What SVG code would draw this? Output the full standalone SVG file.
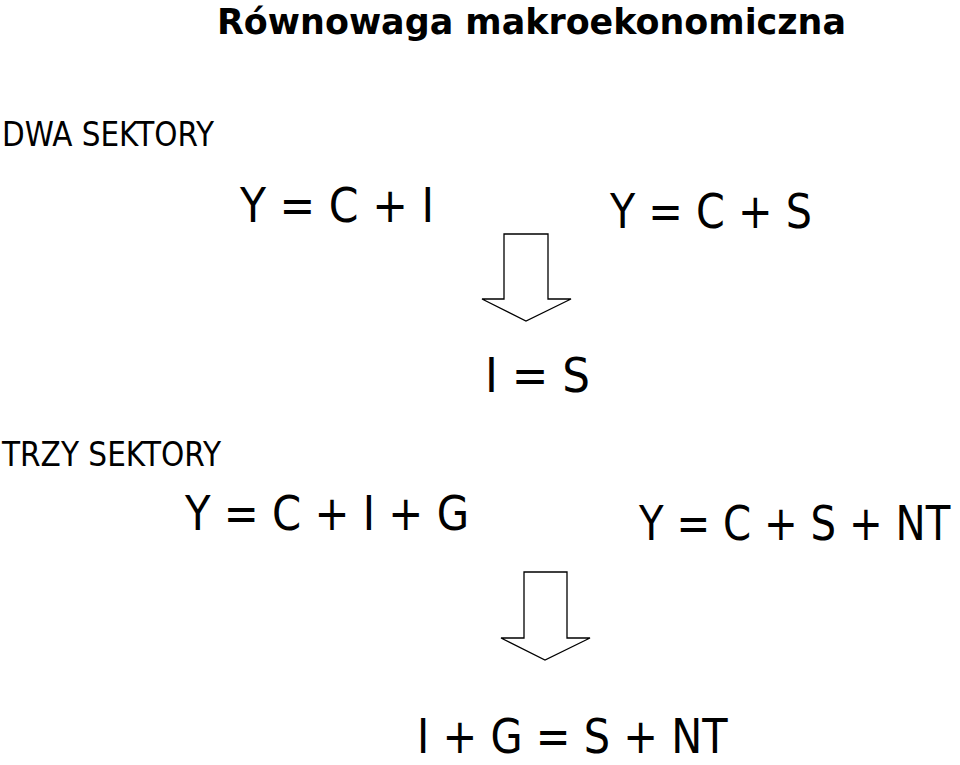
<svg xmlns="http://www.w3.org/2000/svg" width="960" height="765" viewBox="0 0 960 765">
<style>
.t{font-family:"DejaVu Sans","Liberation Sans",sans-serif;fill:#000}
.title{font-size:36px;font-weight:bold}
.lab{font-size:33px}
.eq{font-size:48px}
.arrow{fill:#fff;stroke:#000;stroke-width:1.3;stroke-linejoin:miter}
</style>
<rect width="960" height="765" fill="#fff"/>
<g id="title"><text class="t title" x="217" y="34" textLength="629" lengthAdjust="spacingAndGlyphs">Równowaga makroekonomiczna</text></g>
<g id="dwa"><text class="t lab" x="2" y="146" textLength="212" lengthAdjust="spacingAndGlyphs">DWA SEKTORY</text></g>
<g id="eq1"><text class="t eq" x="240" y="222" textLength="194" lengthAdjust="spacingAndGlyphs">Y = C + I</text></g>
<g id="eq2"><text class="t eq" x="610" y="228" textLength="202" lengthAdjust="spacingAndGlyphs">Y = C + S</text></g>
<g id="eq3"><text class="t eq" x="485" y="392" textLength="105" lengthAdjust="spacingAndGlyphs">I = S</text></g>
<g id="trzy"><text class="t lab" x="2" y="466" textLength="219" lengthAdjust="spacingAndGlyphs">TRZY SEKTORY</text></g>
<g id="eq4"><text class="t eq" x="185" y="530" textLength="284" lengthAdjust="spacingAndGlyphs">Y = C + I + G</text></g>
<g id="eq5"><text class="t eq" transform="translate(639,540) scale(0.84,1)" x="0" y="0">Y = C + S + NT</text></g>
<g id="eq6"><text class="t eq" transform="translate(417,753) scale(0.865,1)" x="0" y="0">I + G = S + NT</text></g>
<g id="connectors">
<polygon class="arrow" points="504,234 548,234 548,299 571,299 526,321 482,299 504,299"/>
<polygon class="arrow" points="524,572 567,572 567,638 590,638 545,660 501,638 524,638"/>
</g>
</svg>
